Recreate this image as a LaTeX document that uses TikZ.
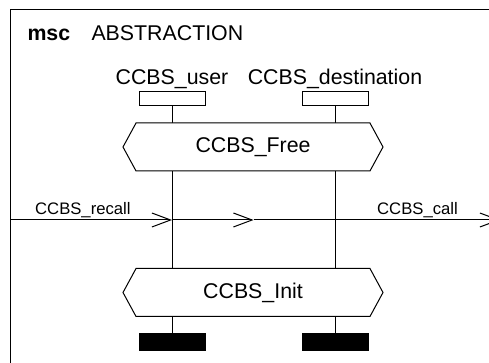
\documentclass[tikz,border=0pt]{standalone}
\usepackage{fontspec}
\setmainfont{Liberation Sans}
\usetikzlibrary{shapes.symbols,arrows.meta,positioning,calc}

\begin{document}
\begin{tikzpicture}[x=0.75pt,y=-0.75pt,line width=0.75pt]
\tikzstyle{head}=[draw,minimum width=49.5pt,minimum height=10.5pt,inner sep=0pt]
\tikzstyle{stopbox}=[draw,fill=black,minimum width=49.5pt,minimum height=12.75pt,inner sep=0pt]
\tikzstyle{cond}=[draw,fill=white,signal,signal to=west and east,signal pointer angle=123,minimum width=195pt,minimum height=36pt,inner sep=0pt,font=\fontsize{16}{19}\selectfont]
\tikzstyle{msg}=[-{Straight Barb[length=14pt,width=10.5pt]}]
\tikzstyle{msglabel}=[font=\fontsize{12.5}{15}\selectfont,inner sep=1pt]
\tikzstyle{instname}=[font=\fontsize{16}{19}\selectfont,inner sep=1.5pt]

\useasboundingbox (0,0) rectangle (489,363);
\clip (0,0) rectangle (489,363);
\draw (10,10) rectangle (500,380);
\node[anchor=base west,inner sep=0pt,font=\bfseries\fontsize{16}{19}\selectfont] (kw) at (27,41) {msc};
\node[anchor=base west,inner sep=0pt,font=\fontsize{16}{19}\selectfont] (title) at (91,41) {ABSTRACTION};

\node[head,label={[instname]above:CCBS\_user}] (uhead) at (172,99) {};
\node[head,label={[instname]above:CCBS\_destination}] (dhead) at (335,99) {};
\node[stopbox] (ustop) at (172,341.5) {};
\node[stopbox] (dstop) at (335,341.5) {};
\draw (uhead) -- (ustop);
\draw (dhead) -- (dstop);

\coordinate (gl) at (10,220);
\coordinate (gr) at (500,220);
\coordinate (um) at (uhead |- gl);
\coordinate (dm) at (dhead |- gl);
\coordinate (mid) at ($(um)!0.5!(dm)$);
\draw[msg] (gl) -- (um) node[msglabel,pos=0.45,above] {CCBS\_recall};
\draw[msg] (um) -- (mid);
\draw (mid) -- (dm);
\draw[msg] (dm) -- (gr) node[msglabel,midway,above] {CCBS\_call};

\node[cond] (free) at (253,147) {CCBS\_Free};
\node[cond] (init) at (253,292.5) {CCBS\_Init};
\end{tikzpicture}
\end{document}
